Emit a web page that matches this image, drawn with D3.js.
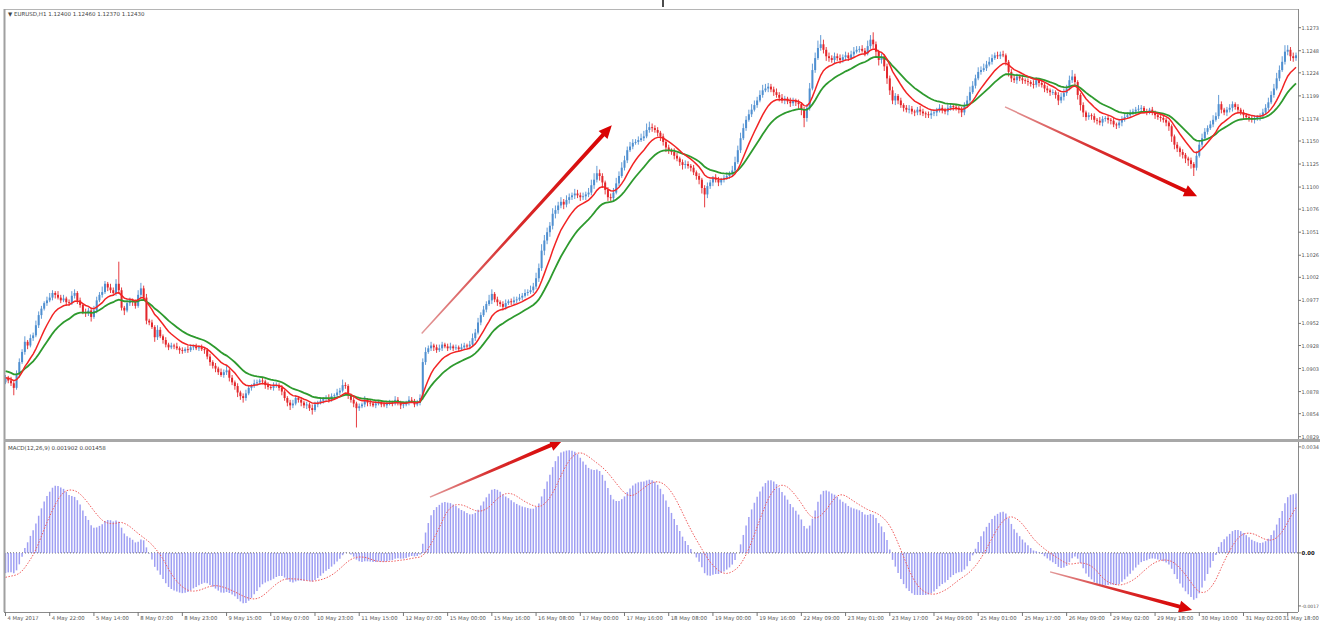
<!DOCTYPE html>
<html>
<head>
<meta charset="utf-8">
<script src="https://cdn.jsdelivr.net/npm/d3@7"></script>
<style>
  body { margin: 0; background: #fff; }
  svg text { font-family: Tahoma, "DejaVu Sans", sans-serif; }
</style>
</head>
<body>
<svg id="chart" width="1320" height="623"></svg>
<script>
const firstOpen = 1.0888;
const closes = [
  1.0893,1.0890,1.0887,1.0882,1.0896,1.0910,1.0921,1.0932,1.0928,1.0936,
  1.0939,1.0950,1.0961,1.0968,1.0974,1.0977,1.0980,1.0985,1.0983,1.0980,
  1.0977,1.0979,1.0975,1.0974,1.0982,1.0985,1.0977,1.0972,1.0964,1.0963,
  1.0966,1.0959,1.0966,1.0977,1.0983,1.0986,1.0995,1.0991,1.0988,1.0985,
  1.0995,1.0988,1.0969,1.0966,1.0974,1.0977,1.0975,1.0971,1.0983,1.0990,
  1.0980,1.0955,1.0953,1.0948,1.0937,1.0945,1.0938,1.0934,1.0929,1.0926,
  1.0928,1.0927,1.0925,1.0923,1.0922,1.0924,1.0923,1.0926,1.0927,1.0925,
  1.0926,1.0924,1.0923,1.0916,1.0910,1.0906,1.0903,1.0899,1.0896,1.0899,
  1.0901,1.0893,1.0888,1.0884,1.0877,1.0873,1.0871,1.0876,1.0882,1.0884,
  1.0887,1.0888,1.0890,1.0889,1.0885,1.0883,1.0882,1.0884,1.0885,1.0882,
  1.0878,1.0871,1.0866,1.0863,1.0865,1.0871,1.0869,1.0866,1.0863,1.0864,
  1.0860,1.0858,1.0864,1.0866,1.0868,1.0870,1.0871,1.0869,1.0873,1.0874,
  1.0877,1.0879,1.0885,1.0884,1.0874,1.0869,1.0865,1.0860,1.0862,1.0864,
  1.0869,1.0866,1.0865,1.0863,1.0865,1.0866,1.0864,1.0863,1.0865,1.0866,
  1.0865,1.0869,1.0866,1.0863,1.0864,1.0866,1.0869,1.0868,1.0864,1.0866,
  1.0871,1.0910,1.0921,1.0925,1.0928,1.0926,1.0923,1.0925,1.0929,1.0927,
  1.0925,1.0927,1.0925,1.0926,1.0924,1.0926,1.0928,1.0927,1.0929,1.0936,
  1.0942,1.0953,1.0961,1.0967,1.0973,1.0977,1.0984,1.0978,1.0975,1.0973,
  1.0970,1.0974,1.0976,1.0975,1.0977,1.0978,1.0980,1.0982,1.0985,1.0986,
  1.0988,1.0992,1.1001,1.1012,1.1031,1.1042,1.1051,1.1058,1.1071,1.1075,
  1.1080,1.1084,1.1081,1.1086,1.1089,1.1091,1.1093,1.1091,1.1089,1.1090,
  1.1092,1.1094,1.1102,1.1108,1.1115,1.1112,1.1105,1.1097,1.1089,1.1088,
  1.1094,1.1104,1.1112,1.1121,1.1129,1.1140,1.1144,1.1148,1.1149,1.1151,
  1.1153,1.1155,1.1162,1.1165,1.1164,1.1162,1.1159,1.1155,1.1149,1.1143,
  1.1140,1.1138,1.1134,1.1131,1.1127,1.1124,1.1125,1.1123,1.1121,1.1116,
  1.1112,1.1108,1.1099,1.1092,1.1101,1.1105,1.1110,1.1108,1.1105,1.1108,
  1.1110,1.1112,1.1114,1.1118,1.1127,1.1140,1.1153,1.1164,1.1173,1.1179,
  1.1184,1.1189,1.1194,1.1200,1.1205,1.1207,1.1209,1.1206,1.1203,1.1200,
  1.1197,1.1194,1.1196,1.1193,1.1191,1.1194,1.1192,1.1190,1.1184,1.1175,
  1.1186,1.1207,1.1227,1.1240,1.1251,1.1255,1.1249,1.1242,1.1240,1.1238,
  1.1242,1.1240,1.1238,1.1241,1.1243,1.1240,1.1244,1.1247,1.1249,1.1250,
  1.1248,1.1245,1.1253,1.1260,1.1255,1.1247,1.1238,1.1242,1.1231,1.1218,
  1.1205,1.1194,1.1199,1.1194,1.1189,1.1186,1.1184,1.1185,1.1182,1.1181,
  1.1184,1.1182,1.1180,1.1179,1.1178,1.1180,1.1181,1.1184,1.1186,1.1184,
  1.1182,1.1186,1.1188,1.1187,1.1186,1.1184,1.1181,1.1188,1.1194,1.1203,
  1.1210,1.1218,1.1225,1.1227,1.1229,1.1233,1.1236,1.1240,1.1243,1.1242,
  1.1244,1.1243,1.1236,1.1225,1.1218,1.1216,1.1220,1.1218,1.1216,1.1215,
  1.1214,1.1212,1.1211,1.1216,1.1213,1.1211,1.1207,1.1205,1.1203,1.1203,
  1.1200,1.1194,1.1198,1.1202,1.1207,1.1216,1.1220,1.1214,1.1200,1.1189,
  1.1181,1.1176,1.1178,1.1177,1.1173,1.1172,1.1170,1.1174,1.1175,1.1173,
  1.1172,1.1168,1.1167,1.1170,1.1174,1.1176,1.1178,1.1180,1.1182,1.1184,
  1.1185,1.1186,1.1182,1.1181,1.1184,1.1181,1.1178,1.1176,1.1175,1.1173,
  1.1170,1.1166,1.1155,1.1146,1.1142,1.1138,1.1135,1.1131,1.1129,1.1125,
  1.1121,1.1134,1.1146,1.1153,1.1160,1.1164,1.1168,1.1173,1.1177,1.1190,
  1.1184,1.1181,1.1184,1.1186,1.1190,1.1187,1.1184,1.1181,1.1178,1.1176,
  1.1175,1.1173,1.1175,1.1176,1.1177,1.1181,1.1186,1.1192,1.1200,1.1207,
  1.1218,1.1227,1.1236,1.1247,1.1249,1.1242,1.1240,1.1243
];
// wick above / below the body, in pips
const upperWick = [
  3,2,4,2,5,4,3,6,2,4, 3,5,4,3,2,4,5,3,2,4, 3,4,2,3,5,4,2,3,2,4, 3,2,5,4,3,6,3,2,4,3,
  5,24,3,2,4,3,2,3,5,6, 3,4,2,3,2,5,3,2,3,2, 3,2,4,2,3,2,4,3,2,3, 2,3,2,2,3,2,3,2,4,3,
  5,2,3,2,3,2,3,4,3,2, 4,3,2,3,2,3,2,4,3,2, 3,2,2,3,4,3,2,3,2,3, 2,4,3,2,3,2,3,4,3,2,
  4,3,6,3,2,2,3,2,3,2, 4,2,3,2,3,2,2,3,2,3, 2,4,3,2,3,2,4,3,2,3, 4,4,5,3,4,2,3,4,3,2,
  3,4,2,3,2,4,3,2,4,5, 4,5,3,4,3,6,5,2,3,2, 3,4,2,3,4,3,4,3,4,3, 5,4,6,5,7,6,5,4,6,5,
  4,5,3,5,4,3,5,4,3,4, 3,5,6,7,8,4,3,2,3,4, 5,6,5,6,5,4,5,4,3,4, 5,6,7,6,4,3,3,2,3,2,
  3,2,4,3,2,3,4,3,2,3, 2,3,2,3,4,3,2,4,3,2, 3,4,3,5,6,5,6,5,4,5, 6,5,4,5,6,5,4,3,3,4,
  3,4,3,2,4,3,2,3,2,3, 4,6,7,6,8,10,5,3,4,3, 4,3,4,3,4,3,4,5,4,3, 4,3,6,5,8,3,2,3,2,3,
  3,4,3,2,3,2,3,4,3,2, 3,4,3,2,3,4,3,2,4,3, 2,4,3,2,3,2,3,4,5,6, 5,4,5,4,5,4,5,4,3,4,
  3,4,2,2,3,4,3,2,3,2, 3,2,4,3,2,3,2,3,2,3, 2,3,4,5,4,5,7,3,2,2, 3,2,3,2,3,2,4,3,2,3,
  2,3,2,4,3,4,3,4,3,3, 4,3,2,3,2,3,2,3,2,3, 2,2,2,2,3,2,3,2,2,3, 2,5,4,5,4,3,4,5,4,10,
  3,2,3,4,3,2,3,2,3,2, 3,2,3,2,3,4,4,5,4,5, 6,5,6,7,5,3,4,3
];
const lowerWick = [
  2,3,3,8,2,3,2,3,4,2, 3,2,3,4,2,3,2,3,4,2, 3,2,4,3,2,3,4,3,2,4, 3,5,2,3,2,3,2,4,3,2,
  3,4,3,5,2,3,4,3,2,3, 2,4,3,2,5,3,2,4,3,3, 2,3,2,4,3,2,3,2,3,2, 3,2,4,3,4,3,4,3,2,3,
  3,4,3,4,5,4,5,3,2,3, 2,3,2,3,4,3,2,3,2,3, 4,3,4,5,3,2,3,4,3,4, 3,5,2,3,2,3,2,3,2,3,
  2,3,2,3,4,3,4,21,3,2, 3,4,3,2,3,2,3,2,3,2, 3,2,3,4,3,2,3,2,3,2, 3,2,3,2,3,4,3,2,3,2,
  3,2,3,2,3,2,3,2,3,2, 3,2,3,2,3,2,4,3,4,3, 4,3,2,3,2,3,2,3,2,3, 2,3,3,4,3,5,4,5,4,5,
  4,3,5,3,4,3,4,3,4,3, 4,3,3,4,3,5,6,5,4,3, 3,2,3,2,3,3,2,3,2,3, 2,3,2,3,4,3,4,5,4,5,
  4,3,4,3,4,5,4,3,4,3, 4,5,6,14,4,3,4,3,4,3, 3,2,3,2,3,2,3,2,3,2, 3,2,3,2,3,2,4,3,4,3,
  4,3,4,3,4,3,4,5,6,10, 4,3,2,3,2,3,4,5,4,3, 4,3,4,3,4,3,2,3,2,3, 2,3,2,3,4,5,6,4,5,6,
  5,4,5,4,3,4,3,4,3,4, 3,4,3,4,3,4,3,4,3,4, 3,4,3,4,3,4,5,3,2,3, 2,3,2,3,2,3,2,3,2,3,
  3,2,4,5,4,3,4,3,4,3, 4,3,4,3,4,3,4,3,4,3, 4,5,3,4,3,2,3,4,5,6, 5,4,3,4,3,4,3,4,3,4,
  4,3,4,3,4,3,2,3,2,3, 2,3,2,3,2,3,4,3,4,3, 4,5,6,5,4,5,4,5,6,5, 9,3,2,3,2,3,2,3,2,3,
  4,3,4,3,4,3,4,3,4,3, 4,3,4,3,4,3,2,3,2,3, 2,3,2,3,4,5,4,3
];

// time axis, one label every 16 bars
const timeLabels = [
  '4 May 2017','4 May 22:00','5 May 14:00','8 May 07:00','8 May 23:00','9 May 15:00',
  '10 May 07:00','10 May 23:00','11 May 15:00','12 May 07:00','15 May 00:00','15 May 16:00',
  '16 May 08:00','17 May 00:00','17 May 16:00','18 May 08:00','19 May 00:00','19 May 16:00',
  '22 May 09:00','23 May 01:00','23 May 17:00','24 May 09:00','25 May 01:00','25 May 17:00',
  '26 May 09:00','29 May 02:00','29 May 18:00','30 May 10:00','31 May 02:00','31 May 18:00'
];
const labelEvery = 16;
const priceTicks = [1.1273,1.1248,1.1224,1.1199,1.1174,1.1150,1.1125,1.1100,1.1076,1.1051,
  1.1026,1.1002,1.0977,1.0952,1.0928,1.0903,1.0878,1.0854,1.0829];
const macdTicks = [0.0034, 0, -0.0017];

// indicator state at the first bar
const maFastPeriod = 10, maSlowPeriod = 21;
const maFastStart = 1.0893, maSlowStart = 1.0901;
const ema12Start = 1.0893, ema26Start = 1.0900, signalStart = -0.0008;

// annotation arrows: [fromBar, fromValue, toBar, toValue]
const priceArrows = [[150.6, 1.0941, 219.4, 1.1167], [361.7, 1.1187, 431.2, 1.1090]];
const macdArrows = [[153.6, 0.00179, 201.7, 0.00362], [378.0, -0.00061, 429.4, -0.00183]];

const bullCol = '#4f8fd0', bearCol = '#e3262b';

const svg = d3.select('#chart');
const plotL = 4, plotR = 1298, edge = 1319;
const priceTop = 9, priceBot = 439, macdTop = 442, macdBot = 612;

const x = d3.scaleLinear().domain([0, closes.length - 1]).range([5.5, 1296]);
const y = d3.scaleLinear().domain([1.0829, 1.1273]).range([436.7, 27.7]);
const ym = d3.scaleLinear().domain([-0.001744, 0.003434]).range([607.3, 445.8]);

function ema(values, period, start) {
  const k = 2 / (period + 1);
  let prev = start;
  return values.map(v => (prev = prev + k * (v - prev)));
}

const candles = closes.map((c, i) => {
  const o = i ? closes[i - 1] : firstOpen;
  return { i, o, c, h: Math.max(o, c) + upperWick[i] / 1e4, l: Math.min(o, c) - lowerWick[i] / 1e4 };
});
const maFast = ema(closes, maFastPeriod, maFastStart);
const maSlow = ema(closes, maSlowPeriod, maSlowStart);
const e12 = ema(closes, 12, ema12Start), e26 = ema(closes, 26, ema26Start);
const macd = e12.map((v, i) => v - e26[i]);
const win = d3.range(8).map(() => signalStart);
const signal = macd.map(v => { win.push(v); if (win.length > 9) win.shift(); return d3.mean(win); });

// clips
const defs = svg.append('defs');
defs.append('clipPath').attr('id', 'clipPrice').append('rect')
  .attr('x', plotL).attr('y', priceTop).attr('width', plotR - plotL).attr('height', priceBot - priceTop);
defs.append('clipPath').attr('id', 'clipMacd').append('rect')
  .attr('x', plotL).attr('y', macdTop).attr('width', plotR - plotL).attr('height', macdBot - macdTop);

// ---- price pane
const gP = svg.append('g').attr('clip-path', 'url(#clipPrice)');
gP.selectAll('line.wick').data(candles).join('line').attr('class', 'wick')
  .attr('x1', d => x(d.i)).attr('x2', d => x(d.i))
  .attr('y1', d => y(d.h)).attr('y2', d => y(d.l))
  .attr('stroke', d => d.c >= d.o ? bullCol : bearCol).attr('stroke-width', 0.9);
gP.selectAll('rect.body').data(candles).join('rect').attr('class', 'body')
  .attr('x', d => x(d.i) - 1).attr('width', 2)
  .attr('y', d => y(Math.max(d.o, d.c)))
  .attr('height', d => Math.max(0.8, Math.abs(y(d.o) - y(d.c))))
  .attr('fill', d => d.c >= d.o ? bullCol : bearCol);

const line = d3.line().x((d, i) => x(i)).y(d => y(d));
gP.append('path').datum(maSlow).attr('d', line)
  .attr('fill', 'none').attr('stroke', '#2e9a2e').attr('stroke-width', 1.8);
gP.append('path').datum(maFast).attr('d', line)
  .attr('fill', 'none').attr('stroke', '#f22424').attr('stroke-width', 1.5);

// ---- macd pane
const gM = svg.append('g').attr('clip-path', 'url(#clipMacd)');
gM.append('line').attr('x1', plotL).attr('x2', plotR).attr('y1', ym(0)).attr('y2', ym(0))
  .attr('stroke', '#555').attr('stroke-dasharray', '1,2');
gM.selectAll('line.hist').data(macd).join('line').attr('class', 'hist')
  .attr('x1', (d, i) => x(i)).attr('x2', (d, i) => x(i))
  .attr('y1', ym(0)).attr('y2', d => ym(d))
  .attr('stroke', '#8f8ff2').attr('stroke-width', 1.5).attr('opacity', 0.85);
gM.append('path').datum(signal)
  .attr('d', d3.line().x((d, i) => x(i)).y(d => ym(d)))
  .attr('fill', 'none').attr('stroke', '#f05a5a').attr('stroke-width', 1)
  .attr('stroke-dasharray', '1.5,1.5');

// ---- arrows
function arrow(p0, p1, id) {
  const dx = p1[0] - p0[0], dy = p1[1] - p0[1], len = Math.hypot(dx, dy);
  const ux = dx / len, uy = dy / len, nx = -uy, ny = ux;
  const headL = 13, headW = 6, w0 = 0.7, w1 = 2;
  const bx = p1[0] - ux * headL, by = p1[1] - uy * headL;
  const grad = defs.append('linearGradient').attr('id', id)
    .attr('gradientUnits', 'userSpaceOnUse')
    .attr('x1', p0[0]).attr('y1', p0[1]).attr('x2', p1[0]).attr('y2', p1[1]);
  grad.append('stop').attr('offset', 0).attr('stop-color', '#e29a9a');
  grad.append('stop').attr('offset', 0.45).attr('stop-color', '#d83030');
  grad.append('stop').attr('offset', 1).attr('stop-color', '#d90000');
  const pts = [
    [p0[0] + nx * w0, p0[1] + ny * w0], [bx + nx * w1, by + ny * w1], [bx + nx * headW, by + ny * headW],
    p1, [bx - nx * headW, by - ny * headW], [bx - nx * w1, by - ny * w1], [p0[0] - nx * w0, p0[1] - ny * w0]
  ];
  svg.append('polygon').attr('points', pts.map(p => p.join(',')).join(' '))
    .attr('fill', `url(#${id})`);
}
priceArrows.forEach((a, k) => arrow([x(a[0]), y(a[1])], [x(a[2]), y(a[3])], 'pa' + k));
macdArrows.forEach((a, k) => arrow([x(a[0]), ym(a[1])], [x(a[2]), ym(a[3])], 'ma' + k));

// ---- frame
const frame = svg.append('g').attr('fill', 'none');
frame.append('line').attr('x1', plotL).attr('x2', plotR).attr('y1', priceTop + 0.5).attr('y2', priceTop + 0.5).attr('stroke', '#b5b5b5');
frame.append('line').attr('x1', plotL + 0.5).attr('x2', plotL + 0.5).attr('y1', priceTop).attr('y2', macdBot).attr('stroke', '#a0a0a0').attr('stroke-width', 2);
frame.append('line').attr('x1', plotR + 0.5).attr('x2', plotR + 0.5).attr('y1', priceTop).attr('y2', macdBot).attr('stroke', '#8a8a8a');
frame.append('rect').attr('x', plotL).attr('y', priceBot).attr('width', 1320 - plotL).attr('height', macdTop - priceBot)
  .attr('fill', '#a8a8a8');
frame.append('line').attr('x1', plotL).attr('x2', plotR).attr('y1', macdBot + 0.5).attr('y2', macdBot + 0.5).attr('stroke', '#8a8a8a');
svg.append('line').attr('x1', 663).attr('x2', 663).attr('y1', 0).attr('y2', 7).attr('stroke', '#111').attr('stroke-width', 1.5);

// ---- axes text (font shrunk when a label would run past the window edge)
const axisFont = 5.3, txtCol = '#555';
function fit(t) {
  const room = edge - (+t.attr('x'));
  const w = t.node().getComputedTextLength();
  if (w > room) t.attr('font-size', axisFont * room / w);
}
const yt = svg.append('g');
priceTicks.forEach(v => {
  yt.append('line').attr('x1', plotR).attr('x2', plotR + 3).attr('y1', y(v)).attr('y2', y(v)).attr('stroke', '#777');
  fit(yt.append('text').attr('x', plotR + 3.5).attr('y', y(v) + 2).attr('font-size', axisFont)
    .attr('fill', txtCol).text(v.toFixed(4)));
});
macdTicks.forEach(v => {
  yt.append('line').attr('x1', plotR).attr('x2', plotR + 3).attr('y1', ym(v)).attr('y2', ym(v)).attr('stroke', '#777');
  fit(yt.append('text').attr('x', plotR + 3.5).attr('y', ym(v) + 2).attr('font-size', axisFont)
    .attr('fill', v === 0 ? '#111' : txtCol).attr('font-weight', v === 0 ? 'bold' : null)
    .text(v === 0 ? '0.00' : v.toFixed(4)));
});
timeLabels.forEach((t, k) => {
  const xx = x(k * labelEvery);
  yt.append('line').attr('x1', xx).attr('x2', xx).attr('y1', macdBot).attr('y2', macdBot + 4).attr('stroke', '#777');
  const tx = yt.append('text').attr('x', xx + 2).attr('y', 619.5).attr('font-size', axisFont).attr('fill', txtCol).text(t);
  const w = tx.node().getComputedTextLength();
  if (xx + 2 + w > edge) tx.attr('x', edge - w);
});

// ---- headers
const last = candles[candles.length - 1];
svg.append('text').attr('x', 8).attr('y', 16).attr('font-size', 5.5).attr('fill', '#444')
  .text(`\u25BC EURUSD,H1  ${last.o.toFixed(5)} ${last.h.toFixed(5)} ${last.l.toFixed(5)} ${last.c.toFixed(5)}`);
svg.append('text').attr('x', 8).attr('y', 450).attr('font-size', 5.5).attr('fill', '#444')
  .text(`MACD(12,26,9) ${macd[macd.length - 1].toFixed(6)} ${signal[signal.length - 1].toFixed(6)}`);
</script>
</body>
</html>
